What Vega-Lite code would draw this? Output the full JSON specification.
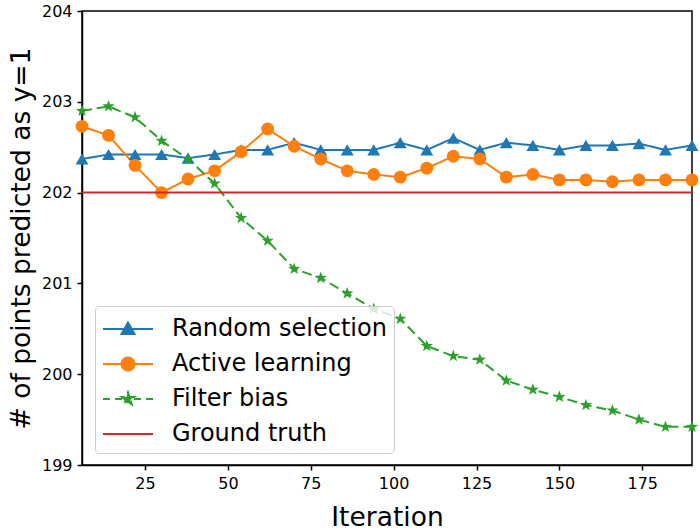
{
  "$schema": "https://vega.github.io/schema/vega-lite/v6.json",
  "width": 610,
  "height": 454,
  "autosize": "none",
  "padding": {"left": 82, "top": 11, "right": 8, "bottom": 66},
  "background": "white",
  "config": {
    "font": "DejaVu Sans",
    "view": {"stroke": "black", "strokeWidth": 1.5},
    "axis": {
      "grid": false,
      "domainColor": "black",
      "domainWidth": 1.5,
      "tickColor": "black",
      "tickWidth": 1.5,
      "tickSize": 5,
      "labelFont": "DejaVu Sans",
      "labelFontSize": 16,
      "labelColor": "black",
      "labelPadding": 5,
      "titleFont": "DejaVu Sans",
      "titleFontSize": 26.5,
      "titleFontWeight": "normal",
      "titleColor": "black"
    }
  },
  "data": {
    "values": [
      {"it": 6, "series": "Random selection", "v": 202.37},
      {"it": 14, "series": "Random selection", "v": 202.42},
      {"it": 22, "series": "Random selection", "v": 202.42},
      {"it": 30, "series": "Random selection", "v": 202.42},
      {"it": 38, "series": "Random selection", "v": 202.38},
      {"it": 46, "series": "Random selection", "v": 202.42},
      {"it": 54, "series": "Random selection", "v": 202.47},
      {"it": 62, "series": "Random selection", "v": 202.47},
      {"it": 70, "series": "Random selection", "v": 202.55},
      {"it": 78, "series": "Random selection", "v": 202.47},
      {"it": 86, "series": "Random selection", "v": 202.47},
      {"it": 94, "series": "Random selection", "v": 202.47},
      {"it": 102, "series": "Random selection", "v": 202.55},
      {"it": 110, "series": "Random selection", "v": 202.47},
      {"it": 118, "series": "Random selection", "v": 202.6},
      {"it": 126, "series": "Random selection", "v": 202.47},
      {"it": 134, "series": "Random selection", "v": 202.55},
      {"it": 142, "series": "Random selection", "v": 202.52},
      {"it": 150, "series": "Random selection", "v": 202.47},
      {"it": 158, "series": "Random selection", "v": 202.52},
      {"it": 166, "series": "Random selection", "v": 202.52},
      {"it": 174, "series": "Random selection", "v": 202.54},
      {"it": 182, "series": "Random selection", "v": 202.47},
      {"it": 190, "series": "Random selection", "v": 202.52},
      {"it": 6, "series": "Active learning", "v": 202.73},
      {"it": 14, "series": "Active learning", "v": 202.63},
      {"it": 22, "series": "Active learning", "v": 202.3},
      {"it": 30, "series": "Active learning", "v": 202.0},
      {"it": 38, "series": "Active learning", "v": 202.15},
      {"it": 46, "series": "Active learning", "v": 202.24},
      {"it": 54, "series": "Active learning", "v": 202.45},
      {"it": 62, "series": "Active learning", "v": 202.7},
      {"it": 70, "series": "Active learning", "v": 202.51},
      {"it": 78, "series": "Active learning", "v": 202.37},
      {"it": 86, "series": "Active learning", "v": 202.24},
      {"it": 94, "series": "Active learning", "v": 202.2},
      {"it": 102, "series": "Active learning", "v": 202.17},
      {"it": 110, "series": "Active learning", "v": 202.27},
      {"it": 118, "series": "Active learning", "v": 202.4},
      {"it": 126, "series": "Active learning", "v": 202.37},
      {"it": 134, "series": "Active learning", "v": 202.17},
      {"it": 142, "series": "Active learning", "v": 202.2},
      {"it": 150, "series": "Active learning", "v": 202.14},
      {"it": 158, "series": "Active learning", "v": 202.14},
      {"it": 166, "series": "Active learning", "v": 202.12},
      {"it": 174, "series": "Active learning", "v": 202.14},
      {"it": 182, "series": "Active learning", "v": 202.14},
      {"it": 190, "series": "Active learning", "v": 202.14},
      {"it": 6, "series": "Filter bias", "v": 202.9},
      {"it": 14, "series": "Filter bias", "v": 202.95},
      {"it": 22, "series": "Filter bias", "v": 202.83},
      {"it": 30, "series": "Filter bias", "v": 202.57},
      {"it": 38, "series": "Filter bias", "v": 202.37},
      {"it": 46, "series": "Filter bias", "v": 202.1},
      {"it": 54, "series": "Filter bias", "v": 201.72},
      {"it": 62, "series": "Filter bias", "v": 201.47},
      {"it": 70, "series": "Filter bias", "v": 201.16},
      {"it": 78, "series": "Filter bias", "v": 201.06},
      {"it": 86, "series": "Filter bias", "v": 200.89},
      {"it": 94, "series": "Filter bias", "v": 200.72},
      {"it": 102, "series": "Filter bias", "v": 200.61},
      {"it": 110, "series": "Filter bias", "v": 200.31},
      {"it": 118, "series": "Filter bias", "v": 200.2},
      {"it": 126, "series": "Filter bias", "v": 200.16},
      {"it": 134, "series": "Filter bias", "v": 199.93},
      {"it": 142, "series": "Filter bias", "v": 199.83},
      {"it": 150, "series": "Filter bias", "v": 199.75},
      {"it": 158, "series": "Filter bias", "v": 199.66},
      {"it": 166, "series": "Filter bias", "v": 199.6},
      {"it": 174, "series": "Filter bias", "v": 199.5},
      {"it": 182, "series": "Filter bias", "v": 199.42},
      {"it": 190, "series": "Filter bias", "v": 199.42},
      {"it": 6, "series": "Ground truth", "v": 202.0},
      {"it": 190, "series": "Ground truth", "v": 202.0}
    ]
  },
  "encoding": {
    "x": {
      "field": "it",
      "type": "quantitative",
      "title": "Iteration",
      "scale": {"domain": [6, 190], "nice": false, "zero": false},
      "axis": {"values": [25, 50, 75, 100, 125, 150, 175], "titleY": 60, "titleBaseline": "alphabetic"}
    },
    "y": {
      "field": "v",
      "type": "quantitative",
      "title": "# of points predicted as y=1",
      "scale": {"domain": [199, 204], "nice": false, "zero": false},
      "axis": {"values": [199, 200, 201, 202, 203, 204], "titleX": -53, "titleBaseline": "alphabetic"}
    }
  },
  "layer": [
    {
      "transform": [{"filter": "datum.series !== 'Ground truth'"}],
      "mark": {"type": "line", "strokeWidth": 2},
      "encoding": {
        "color": {
          "field": "series",
          "type": "nominal",
          "scale": {
            "domain": ["Random selection", "Active learning", "Filter bias", "Ground truth"],
            "range": ["#1f77b4", "#ff7f0e", "#2ca02c", "#d62728"]
          },
          "legend": {
            "title": null,
            "orient": "none",
            "legendX": 13,
            "legendY": 295,
            "fillColor": "rgba(255,255,255,0.8)",
            "strokeColor": "#cccccc",
            "cornerRadius": 4,
            "padding": 7,
            "rowPadding": 7,
            "symbolSize": 900,
            "symbolOffset": 10,
            "symbolStrokeWidth": 2,
            "labelFont": "DejaVu Sans",
            "labelFontSize": 24,
            "labelColor": "black",
            "labelOffset": 28,
            "labelLimit": 0,
            "encode": {
              "symbols": {
                "update": {
                  "shape": {"signal": "datum.value === 'Random selection' ? 'M-1.667,0H1.667M0,-0.433L0.433,0.333L-0.433,0.333Z' : datum.value === 'Active learning' ? 'M-1.667,0H1.667M-0.433,0A0.433,0.433 0 1,0 0.433,0A0.433,0.433 0 1,0 -0.433,0Z' : datum.value === 'Filter bias' ? 'M-1.667,0H-1.2M-0.867,0H-0.4M0.4,0H0.867M1.2,0H1.667M0,-0.433L0.102,-0.14L0.412,-0.133L0.165,0.053L0.255,0.35L0,0.173L-0.255,0.35L-0.165,0.053L-0.412,-0.133L-0.102,-0.14Z' : 'M-1.667,0H1.667'"},
                  "fill": {"signal": "scale('color', datum.value)"},
                  "stroke": {"signal": "scale('color', datum.value)"},
                  "fillOpacity": {"value": 1},
                  "opacity": {"value": 1},
                  "strokeDash": {"value": [1, 0]}
                }
              }
            }
          }
        },
        "strokeDash": {
          "field": "series",
          "type": "nominal",
          "scale": {
            "domain": ["Random selection", "Active learning", "Filter bias", "Ground truth"],
            "range": [[1, 0], [1, 0], [10, 5], [1, 0]]
          },
          "legend": null
        }
      }
    },
    {
      "transform": [{"filter": "datum.series !== 'Ground truth'"}],
      "mark": {"type": "point", "filled": true, "opacity": 1, "size": 165},
      "encoding": {
        "color": {"field": "series", "type": "nominal"},
        "shape": {
          "field": "series",
          "type": "nominal",
          "scale": {
            "domain": ["Random selection", "Active learning", "Filter bias"],
            "range": ["triangle-up", "circle", "M0,-1L0.235,-0.324L0.951,-0.309L0.38,0.124L0.588,0.809L0,0.4L-0.588,0.809L-0.38,0.124L-0.951,-0.309L-0.235,-0.324Z"]
          },
          "legend": null
        }
      }
    },
    {
      "transform": [{"filter": "datum.series === 'Ground truth'"}],
      "mark": {"type": "line", "strokeWidth": 2},
      "encoding": {
        "color": {"field": "series", "type": "nominal"}
      }
    }
  ]
}
